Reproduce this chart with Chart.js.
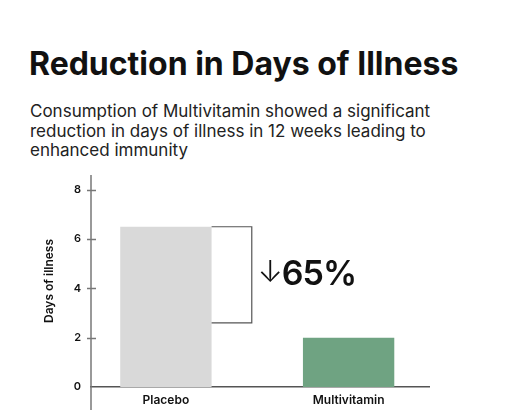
<!DOCTYPE html>
<html>
<head>
<meta charset="utf-8">
<script src="https://cdn.jsdelivr.net/npm/chart.js@4.4.1/dist/chart.umd.min.js"></script>
<style>
  html, body { margin: 0; padding: 0; background: #fff; }
  #wrap { position: relative; width: 512px; height: 416px; overflow: hidden; }
  #titulo { position: absolute; left: 29px; top: 44px; margin: 0; font: 700 32px "Inter", sans-serif; color: #111; letter-spacing: 0px; white-space: nowrap; }
  #sub { position: absolute; left: 30px; top: 102px; width: 440px; margin: 0; font: 400 17px/19.5px "Inter", sans-serif; color: #222; }
  #grafico { position: absolute; left: 0; top: 0; }
</style>
</head>
<body>
<div id="wrap">
  <h1 id="titulo">Reduction in Days of Illness</h1>
  <p id="sub">Consumption of Multivitamin showed a significant reduction in days of illness in 12 weeks leading to enhanced immunity</p>
  <canvas id="grafico" width="512" height="416"></canvas>
</div>
<script>
// dados do gráfico
const categorias = ["Placebo", "Multivitamin"];
const posicoes = [1, 2];
const diasDoenca = [6.5, 2.0];
const cores = ["#d9d9d9", "#6fa382"];
const ticksY = [0, 2, 4, 6, 8];
const reducao = "↓65%";
const colchete = { topo: 6.5, base: 2.6, direita: 1.47 };

// desenha eixo Y, marcas, colchete e texto da redução
const extras = {
    id: "extras",
    afterDatasetsDraw(chart) {
        const ctx = chart.ctx;
        const x = chart.scales.x;
        const y = chart.scales.y;
        const area = chart.chartArea;
        ctx.save();
        ctx.strokeStyle = "#777";
        ctx.lineWidth = 1.5;
        ctx.beginPath();
        ctx.moveTo(area.left, area.top);
        ctx.lineTo(area.left, area.bottom + 23);
        ctx.stroke();
        ticksY.slice(1).forEach(v => {
            const py = Math.round(y.getPixelForValue(v)) + 0.5;
            ctx.beginPath();
            ctx.moveTo(area.left - 4, py);
            ctx.lineTo(area.left + 5, py);
            ctx.stroke();
        });
        // colchete
        const meta = chart.getDatasetMeta(0).data[0];
        const xi = meta.x + meta.width / 2;
        const xf = x.getPixelForValue(colchete.direita);
        const yt = y.getPixelForValue(colchete.topo);
        const yb = y.getPixelForValue(colchete.base);
        ctx.strokeStyle = "#555";
        ctx.lineWidth = 1.2;
        ctx.beginPath();
        ctx.moveTo(xi, yt);
        ctx.lineTo(xf, yt);
        ctx.lineTo(xf, yb);
        ctx.lineTo(xi, yb);
        ctx.stroke();
        ctx.fillStyle = "#111";
        ctx.textBaseline = "middle";
        ctx.font = "300 30px Inter, sans-serif";
        ctx.fillText("↓", xf + 6, (yt + yb) / 2 - 2);
        const wSeta = ctx.measureText("↓").width;
        ctx.font = "600 34px Inter, sans-serif";
        ctx.letterSpacing = "-1px";
        ctx.fillText(reducao.slice(1), xf + 5 + wSeta, (yt + yb) / 2);
        ctx.restore();
    }
};

const ctx = document.getElementById("grafico").getContext("2d");
new Chart(ctx, {
    type: "bar",
    data: {
        datasets: [{
            data: posicoes.map((p, i) => ({ x: p, y: diasDoenca[i] })),
            backgroundColor: cores,
            barPercentage: 0.5,
            categoryPercentage: 1
        }]
    },
    options: {
        responsive: false,
        animation: false,
        layout: { padding: { left: 30, right: 83, top: 175, bottom: 0 } },
        plugins: { legend: { display: false }, tooltip: { enabled: false } },
        scales: {
            x: {
                type: "linear",
                offset: false,
                min: 0.59,
                max: 2.44,
                afterBuildTicks: s => { s.ticks = posicoes.map(v => ({ value: v })); },
                afterFit: s => { s.height = 29; },
                grid: { display: false, drawTicks: false, offset: false },
                border: { display: true, color: "#555", width: 1.5 },
                ticks: {
                    padding: 6,
                    color: "#111",
                    font: { family: "Inter", size: 12, weight: "600" },
                    callback: v => categorias[posicoes.indexOf(v)]
                }
            },
            y: {
                min: 0,
                max: 8.6,
                afterBuildTicks: s => { s.ticks = ticksY.map(v => ({ value: v })); },
                afterFit: s => { s.width = 61; },
                grid: { display: false, drawTicks: false },
                border: { display: false },
                ticks: {
                    padding: 10,
                    color: "#111",
                    font: { family: "Inter", size: 11, weight: "600" }
                },
                title: {
                    display: true,
                    text: "Days of illness",
                    color: "#111",
                    padding: { top: 12, bottom: 4 },
                    font: { family: "Inter", size: 12, weight: "600" }
                }
            }
        }
    },
    plugins: [extras]
});
</script>
</body>
</html>
